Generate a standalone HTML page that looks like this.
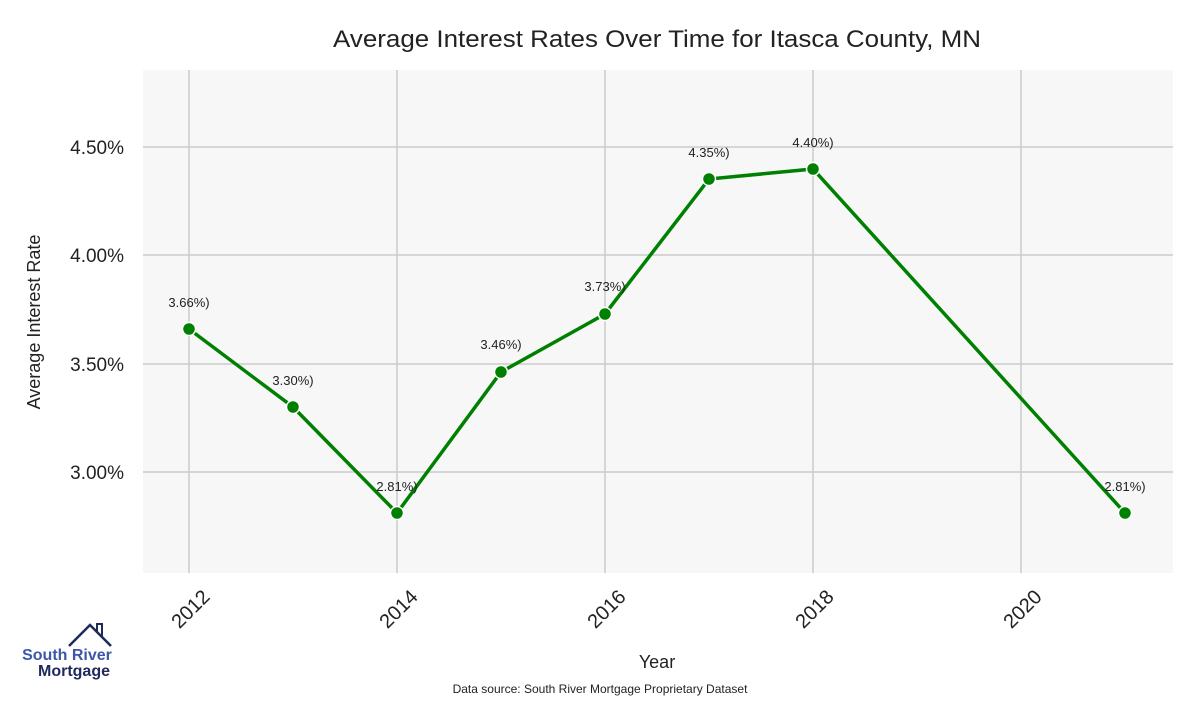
<!DOCTYPE html>
<html><head><meta charset="utf-8"><style>body{margin:0;background:#fff;width:1200px;height:700px;overflow:hidden}</style></head>
<body>
<svg width="1200" height="700" xmlns="http://www.w3.org/2000/svg" font-family="Liberation Sans, sans-serif">
<rect x="143" y="70" width="1030" height="503" fill="#f7f7f7"/>
<g stroke="#cccccc" stroke-width="1.5">
<line x1="189" y1="70" x2="189" y2="573"/><line x1="397" y1="70" x2="397" y2="573"/>
<line x1="605" y1="70" x2="605" y2="573"/><line x1="813" y1="70" x2="813" y2="573"/>
<line x1="1021" y1="70" x2="1021" y2="573"/>
<line x1="143" y1="147" x2="1173" y2="147"/><line x1="143" y1="255" x2="1173" y2="255"/>
<line x1="143" y1="364" x2="1173" y2="364"/><line x1="143" y1="472" x2="1173" y2="472"/>
</g>
<text x="657" y="47" text-anchor="middle" font-size="24" textLength="648" lengthAdjust="spacingAndGlyphs" fill="#222">Average Interest Rates Over Time for Itasca County, MN</text>
<g font-size="19" fill="#222" text-anchor="end">
<text x="124" y="154">4.50%</text><text x="124" y="262">4.00%</text>
<text x="124" y="371">3.50%</text><text x="124" y="479">3.00%</text>
</g>
<text transform="translate(40,322) rotate(-90)" text-anchor="middle" font-size="18" fill="#222">Average Interest Rate</text>
<g font-size="20" fill="#222" text-anchor="end">
<text transform="translate(211,598) rotate(-45)">2012</text>
<text transform="translate(419,598) rotate(-45)">2014</text>
<text transform="translate(627,598) rotate(-45)">2016</text>
<text transform="translate(835,598) rotate(-45)">2018</text>
<text transform="translate(1043,598) rotate(-45)">2020</text>
</g>
<text x="657" y="668" text-anchor="middle" font-size="18" fill="#222">Year</text>
<text x="600" y="693" text-anchor="middle" font-size="12" fill="#222">Data source: South River Mortgage Proprietary Dataset</text>
<polyline points="189,329 293,407 397,513 501,372 605,314 709,179 813,169 1125,513" fill="none" stroke="#008000" stroke-width="3.5"/>
<g fill="#008000" stroke="#fff" stroke-width="1.5">
<circle cx="189" cy="329" r="6.5"/><circle cx="293" cy="407" r="6.5"/><circle cx="397" cy="513" r="6.5"/>
<circle cx="501" cy="372" r="6.5"/><circle cx="605" cy="314" r="6.5"/><circle cx="709" cy="179" r="6.5"/>
<circle cx="813" cy="169" r="6.5"/><circle cx="1125" cy="513" r="6.5"/>
</g>
<g font-size="13" fill="#222" text-anchor="middle">
<text x="189" y="307">3.66%)</text><text x="293" y="385">3.30%)</text><text x="397" y="491">2.81%)</text>
<text x="501" y="349">3.46%)</text><text x="605" y="291">3.73%)</text><text x="709" y="157">4.35%)</text>
<text x="813" y="147">4.40%)</text><text x="1125" y="491">2.81%)</text>
</g>
<polyline points="69,646 90,625 111,646" fill="none" stroke="#1f2a5c" stroke-width="2.5"/>
<polyline points="97,632 97,624 102,624 102,637" fill="none" stroke="#1f2a5c" stroke-width="2"/>
<text x="67" y="660" text-anchor="middle" font-size="16" font-weight="bold" fill="#3d57a8">South River</text>
<text x="74" y="676" text-anchor="middle" font-size="16" font-weight="bold" fill="#1f2a5c">Mortgage</text>
</svg>
</body></html>
